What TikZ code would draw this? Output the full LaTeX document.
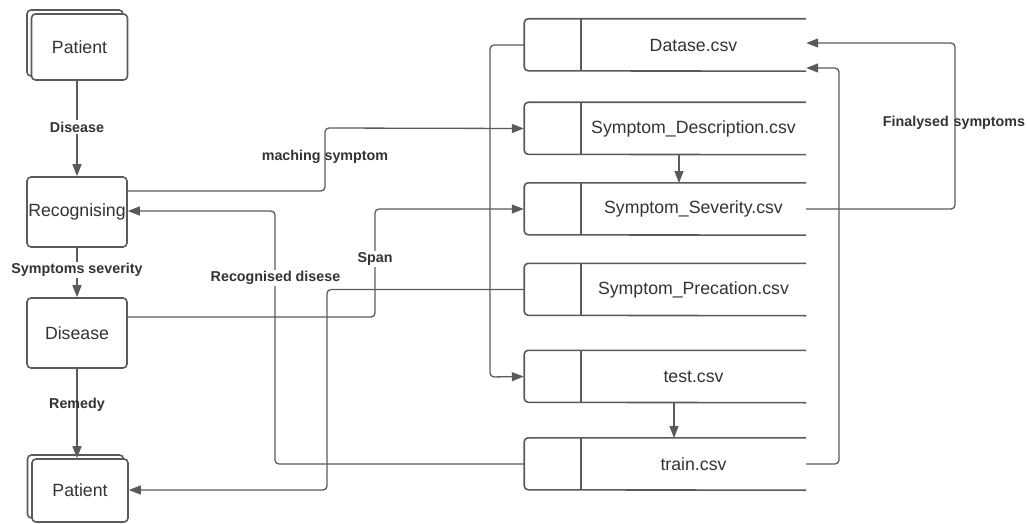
\documentclass[tikz,border=0pt]{standalone}
\usepackage{fontspec}
\setmainfont{Liberation Sans}
\usetikzlibrary{arrows.meta,calc}
\definecolor{ln}{HTML}{5A5A5A}
\definecolor{tx}{HTML}{333333}
\tikzset{
  boxst/.style={draw=ln, line width=1.6pt, rounded corners=4pt, fill=white, text=tx,
    font=\fontsize{17.7}{20}\selectfont, inner sep=0pt},
  tbltext/.style={draw=none, text=tx, minimum width=225pt, minimum height=52pt,
    font=\fontsize{17.7}{20}\selectfont, inner sep=0pt},
  tblline/.style={draw=ln, line width=1.6pt, rounded corners=4pt},
  conn/.style={draw=ln, line width=1.3pt, rounded corners=4pt},
  arr/.style={conn, -{Triangle[length=12pt,width=9pt]}},
  lbl/.style={text=tx, font=\bfseries\fontsize{14.3}{16}\selectfont, inner sep=1.5pt},
  lblw/.style={lbl, fill=white},
}
\begin{document}
\begin{tikzpicture}[x=1pt,y=-1pt]
\useasboundingbox (0,0) rectangle (1027,524);

% left column
\node[boxst, minimum width=96pt, minimum height=66pt] (pat1b) at (75,43) {};
\node[boxst, minimum width=96pt, minimum height=66pt] (pat1) at (79.5,47) {Patient};
\node[boxst, minimum width=100pt, minimum height=70pt] (rec) at (77,212) {Recognising};
\node[boxst, minimum width=100pt, minimum height=70pt] (dis) at (77,333) {Disease};
\node[boxst, minimum width=96pt, minimum height=63pt] (pat2b) at (75.5,486.5) {};
\node[boxst, minimum width=96pt, minimum height=63pt] (pat2) at (80,490.5) {Patient};

% right column tables
\node[tbltext] (ds) at (693.5,45) {Datase.csv};
\node[tbltext] (sd) at (693.5,128.5) {Symptom\_Description.csv};
\node[tbltext] (ss) at (693.5,209) {Symptom\_Severity.csv};
\node[tbltext] (sp) at (693.5,289.5) {Symptom\_Precation.csv};
\node[tbltext] (te) at (693.5,376.5) {test.csv};
\node[tbltext] (tr) at (693.5,464) {train.csv};
\foreach \n in {ds,sd,ss,sp,te,tr}{
  \draw[tblline] (\n.north east) -- ++(-282,0) -- ++(0,52) -- (\n.south east);
  \draw[tblline] (\n.north west) -- (\n.south west);
  \coordinate (\n-l) at ($(\n.west)+(-57,0)$);
}

% left vertical flow
\draw[arr] (rec.north |- pat1.south) -- (rec.north);
\node[lblw] at (77,127) {Disease};
\draw[arr] (rec.south) -- (dis.north);
\node[lblw] at (77,270) {Symptoms severity};
\draw[arr] (dis.south) -- (dis.south |- pat2.north);
\node[lbl] at (77,405) {Remedy};

% maching symptom
\draw[arr] (rec.east |- 0,191) -| (325,128) -- (sd-l);
\node[lbl] at (325,157) {maching symptom};

% Span
\draw[arr] (dis.east |- 0,317) -| (375,209) -- (ss-l);
\node[lblw] at (375,259) {Span};

% Recognised disese
\draw[arr] (tr-l) -| (275,211) -- (rec.east |- 0,211);
\node[lblw] at (275.5,278) {Recognised disese};

% Symptom_Precation -> Patient
\draw[arr] (sp-l) -| (327,490) -- (pat2.east |- 0,490);

% Datase -> test
\draw[arr] (ds-l) -| (490,377) -- (te-l);

% internal arrows
\draw[arr] (679,154) -- (679,183);
\draw[arr] (674,403) -- (674,438);

% Finalysed symptoms
\draw[arr] (ss.east) -| (955,43) -- (ds.east |- 0,43);
\node[lbl] at (954,123) {Finalysed\,\,symptoms};

% train -> Datase
\draw[arr] (tr.east) -| (839,68) -- (ds.east |- 0,68);
\end{tikzpicture}
\end{document}
